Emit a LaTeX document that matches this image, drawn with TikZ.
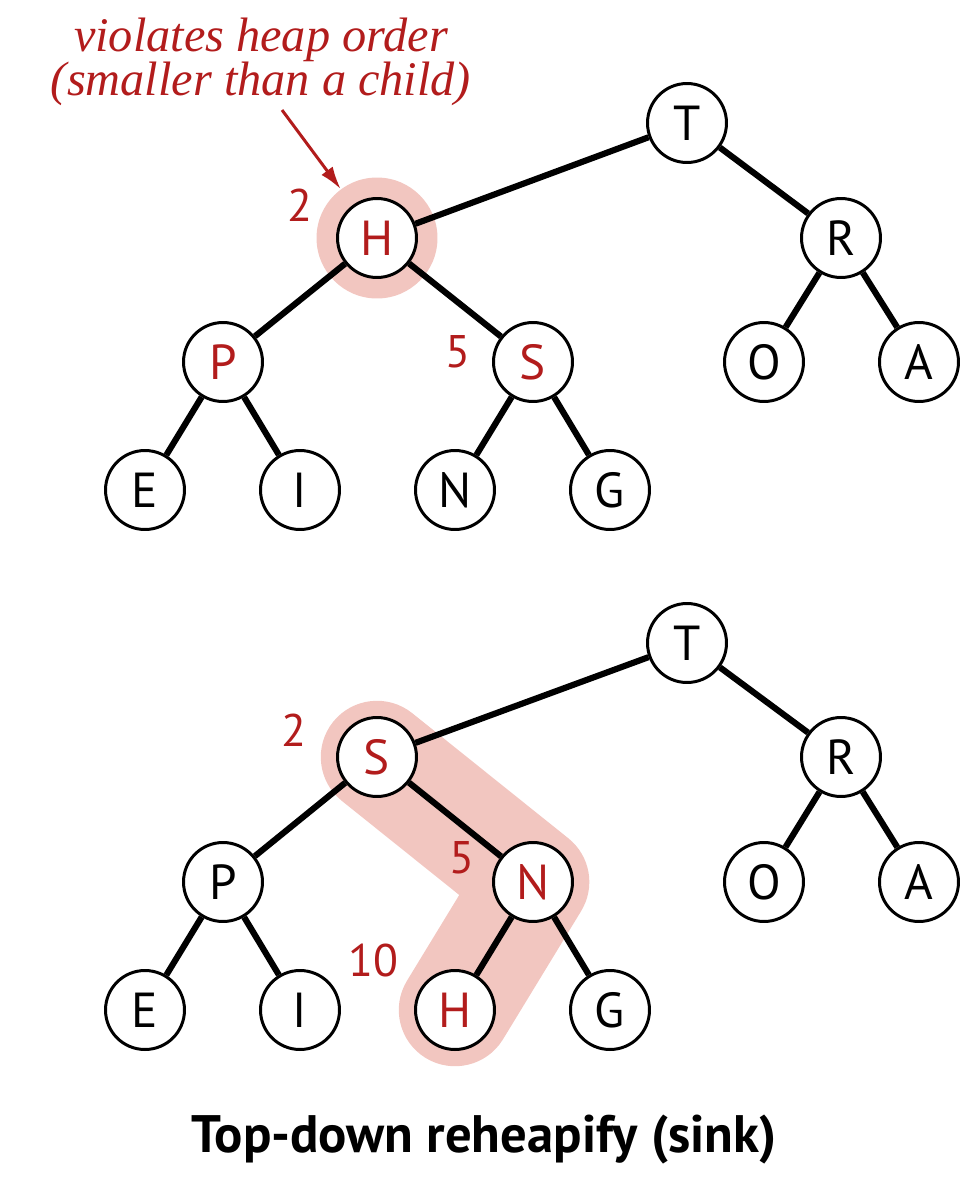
\documentclass[tikz,border=0pt]{standalone}
\usepackage{fontspec}
\setsansfont{PT Sans}
\newfontfamily\notefont{Liberation Serif}
\usepackage{tikz}
\usetikzlibrary{arrows.meta, backgrounds}

\definecolor{heapred}{RGB}{178,28,28}
\definecolor{heappink}{RGB}{242,198,192}

\begin{document}
\begin{tikzpicture}[
      x=0.02cm, y=-0.02cm,
      heapnode/.style={circle, draw, line width=1.7pt, fill=white,
                       minimum size=1.58cm, inner sep=0pt,
                       font=\sffamily\fontsize{28}{30}\selectfont},
      rednode/.style={heapnode, text=heapred},
      link/.style={draw, line width=3.5pt},
      lbl/.style={text=heapred, font=\sffamily\fontsize{26}{28}\selectfont},
      hilite/.style={draw=heappink, line width=64pt, line cap=round,
                     line join=round},
      pointer/.style={draw=heapred, line width=1.7pt,
                      -{Latex[length=13pt, width=8pt]}}
  ]
      \useasboundingbox (0,0) rectangle (968,1200);

      % before: H breaks the heap order
      \node (t1) [heapnode] at (687,123) {T};
      \node (h1) [rednode]  at (377,238) {H};
      \node (r1) [heapnode] at (841,238) {R};
      \node (p1) [rednode]  at (223,362) {P};
      \node (s1) [rednode]  at (533,362) {S};
      \node (o1) [heapnode] at (764,362) {O};
      \node (a1) [heapnode] at (919,362) {A};
      \node (e1) [heapnode] at (145,490) {E};
      \node (i1) [heapnode] at (300,490) {I};
      \node (n1) [heapnode] at (455,490) {N};
      \node (g1) [heapnode] at (610,490) {G};

      \path [link] (t1) -- (h1);
      \path [link] (t1) -- (r1);
      \path [link] (h1) -- (p1);
      \path [link] (h1) -- (s1);
      \path [link] (r1) -- (o1);
      \path [link] (r1) -- (a1);
      \path [link] (p1) -- (e1);
      \path [link] (p1) -- (i1);
      \path [link] (s1) -- (n1);
      \path [link] (s1) -- (g1);

      \begin{scope}[on background layer]
          \node (ring) [circle, fill=heappink, minimum size=2.42cm] at (h1) {};
      \end{scope}

      \node (idxa) [lbl] at (300,205) {2};
      \node (idxb) [lbl] at (458,352) {5};

      \node (note) [text=heapred, align=center,
                    font=\notefont\itshape\fontsize{27.5}{25}\selectfont]
          at (261,62) {violates heap order\\(smaller than a child)};
      \coordinate (tail) at (282,110);
      \path [pointer] (tail) -- (ring);

      % after: H sinks down to level 3
      \node (t2) [heapnode] at (687,643) {T};
      \node (s2) [rednode]  at (377,757) {S};
      \node (r2) [heapnode] at (841,757) {R};
      \node (p2) [heapnode] at (223,882) {P};
      \node (n2) [rednode]  at (533,882) {N};
      \node (o2) [heapnode] at (764,882) {O};
      \node (a2) [heapnode] at (919,882) {A};
      \node (e2) [heapnode] at (145,1010) {E};
      \node (i2) [heapnode] at (300,1010) {I};
      \node (h2) [rednode]  at (455,1010) {H};
      \node (g2) [heapnode] at (610,1010) {G};

      \path [link] (t2) -- (s2);
      \path [link] (t2) -- (r2);
      \path [link] (s2) -- (p2);
      \path [link] (s2) -- (n2);
      \path [link] (r2) -- (o2);
      \path [link] (r2) -- (a2);
      \path [link] (p2) -- (e2);
      \path [link] (p2) -- (i2);
      \path [link] (n2) -- (h2);
      \path [link] (n2) -- (g2);

      \begin{scope}[on background layer]
          \draw [hilite] (s2.center) -- (n2.center) -- (h2.center);
      \end{scope}

      \node (idxc) [lbl] at (294,730) {2};
      \node (idxd) [lbl] at (462,858) {5};
      \node (idxe) [lbl] at (373,960) {10};

      \node (title) [font=\sffamily\bfseries\fontsize{30}{34}\selectfont]
          at (484,1140) {Top-down reheapify (sink)};
  \end{tikzpicture}
\end{document}
